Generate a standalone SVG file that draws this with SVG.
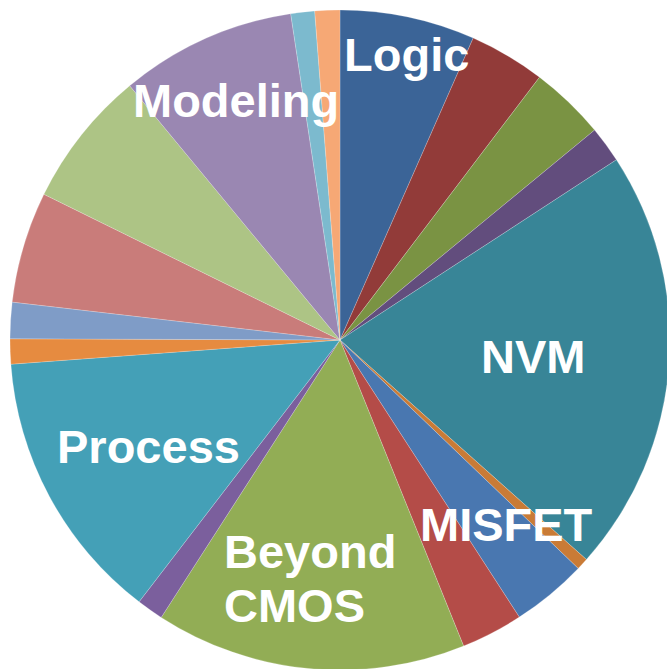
<svg xmlns="http://www.w3.org/2000/svg" width="667" height="669" viewBox="0 0 667 669">
  <style>
    .slice { stroke: #ffffff; stroke-width: 0.4; stroke-opacity: 0.5; }
    .lbl { font-family: "Liberation Sans", Arial, sans-serif; font-weight: bold; font-size: 47px; fill: #ffffff; }
  </style>
  <rect width="667" height="669" fill="#ffffff"/>
  <!-- pie centred at (340,340), radius 330; slices run clockwise from 12 o'clock -->
  <g id="slices">
    <path class="slice" fill="#3B6497" d="M340,340 L340,10 A330,330 0 0,1 473.2,38.1 Z"/>
    <path class="slice" fill="#923B39" d="M340,340 L473.2,38.1 A330,330 0 0,1 539.5,77.2 Z"/>
    <path class="slice" fill="#7A9343" d="M340,340 L539.5,77.2 A330,330 0 0,1 594.6,130.1 Z"/>
    <path class="slice" fill="#624D7D" d="M340,340 L594.6,130.1 A330,330 0 0,1 616.4,159.8 Z"/>
    <path class="slice" fill="#388597" d="M340,340 L616.4,159.8 A330,330 0 0,1 586.4,559.5 Z"/>
    <path class="slice" fill="#C97B36" d="M340,340 L586.4,559.5 A330,330 0 0,1 578.2,568.4 Z"/>
    <path class="slice" fill="#4977B0" d="M340,340 L578.2,568.4 A330,330 0 0,1 519.3,617.1 Z"/>
    <path class="slice" fill="#B44C48" d="M340,340 L519.3,617.1 A330,330 0 0,1 463.6,646.0 Z"/>
    <path class="slice" fill="#92AD55" d="M340,340 L463.6,646.0 A330,330 0 0,1 161.2,617.4 Z"/>
    <path class="slice" fill="#7B5F9D" d="M340,340 L161.2,617.4 A330,330 0 0,1 139.1,601.8 Z"/>
    <path class="slice" fill="#44A0B7" d="M340,340 L139.1,601.8 A330,330 0 0,1 10.9,364.2 Z"/>
    <path class="slice" fill="#E68B40" d="M340,340 L10.9,364.2 A330,330 0 0,1 10.0,338.8 Z"/>
    <path class="slice" fill="#7F9CC7" d="M340,340 L10.0,338.8 A330,330 0 0,1 12.2,302.1 Z"/>
    <path class="slice" fill="#C97C7A" d="M340,340 L12.2,302.1 A330,330 0 0,1 43.9,194.3 Z"/>
    <path class="slice" fill="#ADC485" d="M340,340 L43.9,194.3 A330,330 0 0,1 129.7,85.7 Z"/>
    <path class="slice" fill="#9A87B2" d="M340,340 L129.7,85.7 A330,330 0 0,1 290.7,13.7 Z"/>
    <path class="slice" fill="#7CBACE" d="M340,340 L290.7,13.7 A330,330 0 0,1 314.7,10.9 Z"/>
    <path class="slice" fill="#F6A875" d="M340,340 L314.7,10.9 A330,330 0 0,1 340,10 Z"/>
  </g>
  <g id="labels">
    <text class="lbl" x="344" y="71">Logic</text>
    <text class="lbl" x="133" y="117">Modeling</text>
    <text class="lbl" x="481" y="373">NVM</text>
    <text class="lbl" x="420" y="541">MISFET</text>
    <text class="lbl" x="57" y="463">Process</text>
    <text class="lbl" x="224" y="568">Beyond</text>
    <text class="lbl" x="224" y="622">CMOS</text>
  </g>
</svg>
